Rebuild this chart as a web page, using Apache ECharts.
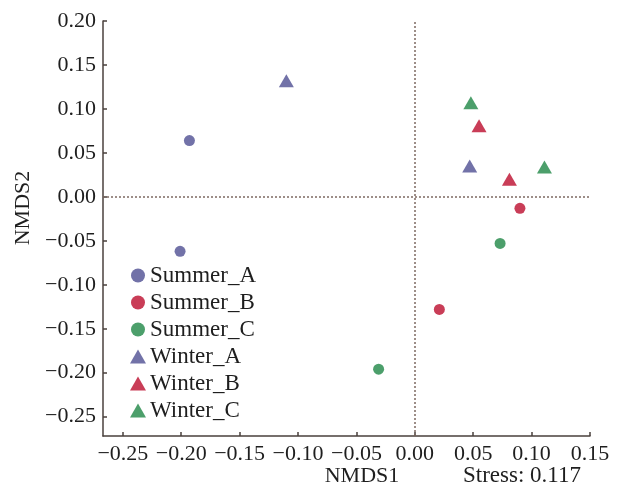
<!DOCTYPE html>
<html>
<head>
<meta charset="utf-8">
<script src="https://cdn.jsdelivr.net/npm/echarts@6/dist/echarts.min.js"></script>
<style>
  html, body { margin: 0; padding: 0; background: #fff; }
  #chart { width: 618px; height: 494px; }
</style>
</head>
<body>
<div id="chart"></div>
<script>
// NMDS 坐标 [NMDS1, NMDS2]
const summerA = [[-0.193, 0.064], [-0.201, -0.062]];
const summerB = [[0.090, -0.013], [0.021, -0.128]];
const summerC = [[0.073, -0.053], [-0.031, -0.196]];
const winterA = [[-0.110, 0.132], [0.047, 0.035]];
const winterB = [[0.055, 0.081], [0.081, 0.020]];
const winterC = [[0.048, 0.107], [0.111, 0.034]];

const groupNames = ["Summer_A", "Summer_B", "Summer_C", "Winter_A", "Winter_B", "Winter_C"];
const xTicks = [-0.25, -0.20, -0.15, -0.10, -0.05, 0.00, 0.05, 0.10, 0.15];
const yTicks = [-0.25, -0.20, -0.15, -0.10, -0.05, 0.00, 0.05, 0.10, 0.15, 0.20];
const stressText = "Stress: 0.117";

const colors = { A: "#7272a8", B: "#c93d57", C: "#4c9f6b" };
const font = "Liberation Serif";
const axisColor = "#4a403c";
const textColor = "#1e1e1e";

const minus = v => v.toFixed(2).replace("-", "\u2212");

function pts(name, data, color, tri) {
  return {
    name: name,
    type: "scatter",
    data: data,
    symbol: tri ? "triangle" : "circle",
    symbolSize: tri ? [15, 13] : 11,
    itemStyle: { color: color, opacity: 1 },
    z: 5
  };
}

const series = [
  pts(groupNames[0], summerA, colors.A, false),
  pts(groupNames[1], summerB, colors.B, false),
  pts(groupNames[2], summerC, colors.C, false),
  pts(groupNames[3], winterA, colors.A, true),
  pts(groupNames[4], winterB, colors.B, true),
  pts(groupNames[5], winterC, colors.C, true)
];
// 零点参考虚线
series[0].markLine = {
  silent: true,
  symbol: "none",
  label: { show: false },
  lineStyle: { color: "#7d6a62", type: [2, 2], width: 1.5 },
  data: [{ xAxis: 0 }, { yAxis: 0 }]
};

function valueAxis(min, max, ticks, margin) {
  return {
    type: "value",
    min: min,
    max: max,
    splitLine: { show: false },
    axisLine: { onZero: false, lineStyle: { color: axisColor, width: 1.5 } },
    axisTick: { inside: true, length: 4, customValues: ticks, lineStyle: { color: axisColor, width: 1.5 } },
    axisLabel: {
      color: textColor, fontFamily: font, fontSize: 22, margin: margin,
      customValues: ticks,
      formatter: v => minus(v)
    }
  };
}

const myChart = echarts.init(document.getElementById("chart"));
myChart.setOption({
  animation: false,
  grid: { left: 103, right: 28, top: 21, bottom: 58, outerBoundsMode: "none", containLabel: false },
  xAxis: valueAxis(-0.267, 0.15, xTicks, 7),
  yAxis: valueAxis(-0.272, 0.20, yTicks, 7),
  legend: {
    orient: "vertical",
    left: 125,
    top: 259,
    itemGap: 4,
    itemWidth: 16,
    itemHeight: 14,
    data: groupNames,
    textStyle: { color: textColor, fontFamily: font, fontSize: 23, padding: [0, 0, 0, -1] }
  },
  graphic: [
    {
      type: "text",
      x: 362, y: 476,
      style: { text: "NMDS1", fill: textColor, font: "22px " + font, textAlign: "center", textVerticalAlign: "middle" }
    },
    {
      type: "text",
      x: 522, y: 476,
      style: { text: stressText, fill: textColor, font: "23px " + font, textAlign: "center", textVerticalAlign: "middle" }
    },
    {
      type: "text",
      x: 23, y: 208,
      rotation: Math.PI / 2,
      style: { text: "NMDS2", fill: textColor, font: "22px " + font, textAlign: "center", textVerticalAlign: "middle" }
    }
  ],
  series: series
});
</script>
</body>
</html>
